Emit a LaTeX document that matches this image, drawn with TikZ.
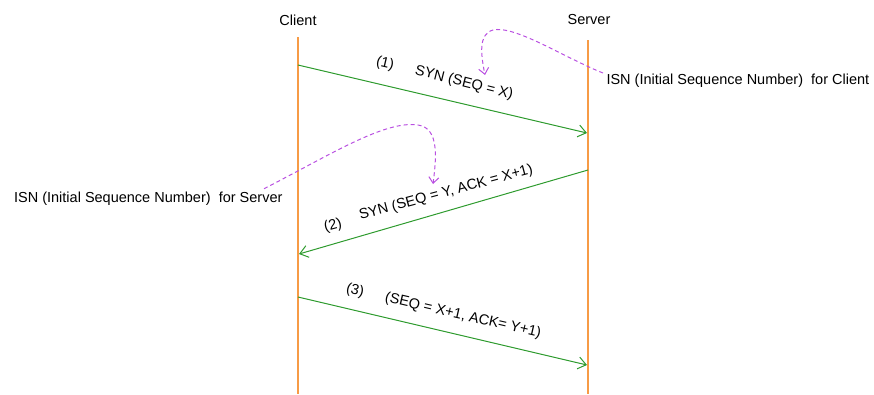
\documentclass[tikz,border=0pt]{standalone}
\usepackage{fontspec}
\setmainfont{Liberation Sans}
\usepackage{tikz}
\usepackage{xcolor}
\usetikzlibrary{arrows.meta}

\definecolor{lifeorange}{RGB}{247,155,70}
\definecolor{msggreen}{RGB}{46,155,46}
\definecolor{isnpurple}{RGB}{185,80,225}

\begin{document}
\begin{tikzpicture}[x=1pt,y=-1pt,font=\fontsize{14.5}{17}\selectfont,
    lifeline/.style={draw=lifeorange,line width=2pt},
    msg/.style={draw=msggreen,line width=1pt,-{Straight Barb[length=8pt,width=12pt]}},
    isn/.style={draw=isnpurple,line width=1pt,dash pattern=on 4pt off 3pt,
      -{Straight Barb[length=6pt,width=10pt]}},
    msgtext/.style={inner sep=1pt}]
  \useasboundingbox (0,0) rectangle (874,394);

  % the two ends of the handshake
  \node (client) at (298,20) {Client};
  \node (server) at (589,20) {Server};
  \draw[lifeline] (298,37) coordinate (ctop) -- (298,394) coordinate (cbot);
  \draw[lifeline] (588,40) coordinate (stop) -- (588,394) coordinate (sbot);

  % (1) client -> server
  \path (298,65) coordinate (c1) (587,133) coordinate (s1);
  \draw[msg] (c1) -- (s1);
  \node[msgtext,rotate=-13] (n1) at (385,64) {(1)};
  \node[msgtext,rotate=-14] (syn1) at (464,83) {SYN (SEQ = X)};

  % (2) server -> client
  \path (588,170) coordinate (s2) (299,254) coordinate (c2);
  \draw[msg] (s2) -- (c2);
  \node[msgtext,rotate=15] (n2) at (333,226) {(2)};
  \node[msgtext,rotate=15] (syn2) at (446,193) {SYN (SEQ = Y, ACK = X+1)};

  % (3) client -> server
  \path (298,297) coordinate (c3) (587,365) coordinate (s3);
  \draw[msg] (c3) -- (s3);
  \node[msgtext,rotate=-13] (n3) at (355,291) {(3)};
  \node[msgtext,rotate=-13] (ack3) at (463,316) {(SEQ = X+1, ACK= Y+1)};

  % initial sequence numbers
  \node[anchor=west] (isnc) at (603,81) {ISN (Initial Sequence Number)~ for Client};
  \node[anchor=east] (isns) at (286,199) {ISN (Initial Sequence Number)~ for Server};
  \coordinate (isnctip) at (485,75);
  \coordinate (isnstip) at (433,184);
  \draw[isn] ([yshift=8pt]isnc.west) .. controls (565,58) and (515,25) .. (493,30)
    .. controls (478,34) and (481,55) .. (isnctip);
  \draw[isn] ([xshift=-22pt]isns.north east) .. controls (330,155) and (385,120) .. (418,125)
    .. controls (440,128) and (436,160) .. (isnstip);
\end{tikzpicture}
\end{document}
